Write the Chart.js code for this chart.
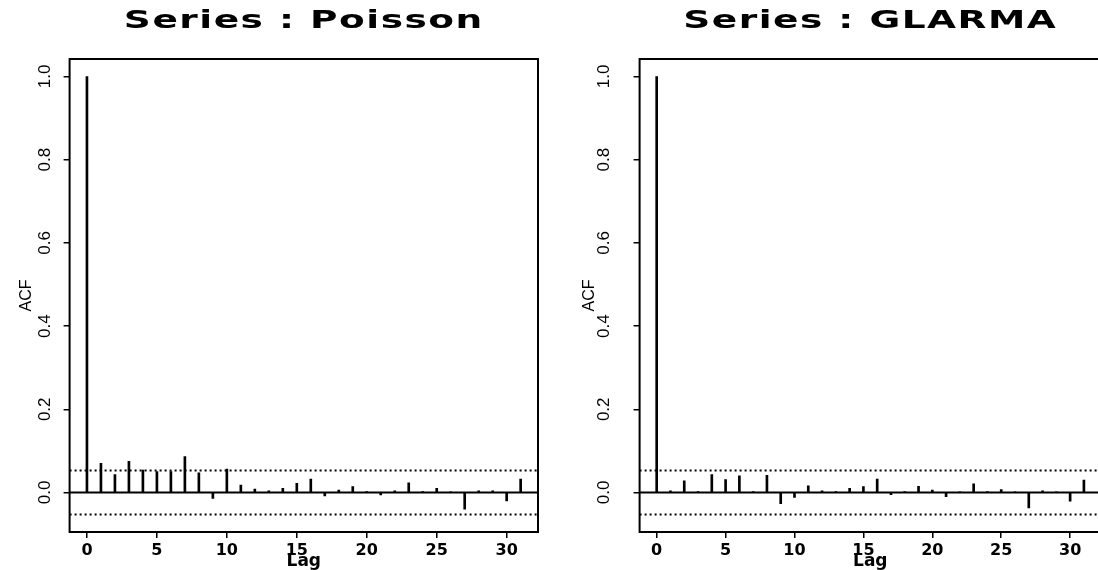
<!DOCTYPE html>
<html>
<head>
<meta charset="utf-8">
<title>ACF: Poisson vs GLARMA</title>
<script src="https://cdn.jsdelivr.net/npm/chart.js@4"></script>
<style>
  html, body { margin: 0; padding: 0; background: #fff; overflow: hidden; }
  .wrap { display: flex; width: 1120px; height: 570px; }
  canvas { display: block; }
</style>
</head>
<body>
<div class="wrap">
  <canvas id="poisson" width="560" height="570"></canvas>
  <canvas id="glarma" width="560" height="570"></canvas>
</div>
<script>
// Sample ACF of the residuals (lags 0..31).
const lags = [0, 1, 2, 3, 4, 5, 6, 7, 8, 9, 10, 11, 12, 13, 14, 15,
              16, 17, 18, 19, 20, 21, 22, 23, 24, 25, 26, 27, 28, 29, 30, 31];

const poissonAcf = [1.000, 0.070, 0.043, 0.075, 0.054, 0.050, 0.050, 0.086,
                    0.047, -0.014, 0.056, 0.018, 0.008, 0.004, 0.010, 0.022,
                    0.032, -0.008, 0.006, 0.014, 0.002, -0.006, 0.004, 0.023,
                    0.002, 0.010, 0.001, -0.040, 0.004, 0.004, -0.020, 0.032];

const glarmaAcf = [1.000, 0.004, 0.028, 0.002, 0.043, 0.031, 0.040, 0.002,
                   0.041, -0.027, -0.012, 0.016, 0.004, 0.002, 0.010, 0.014,
                   0.032, -0.005, 0.002, 0.015, 0.006, -0.010, 0.001, 0.021,
                   0.002, 0.007, 0.001, -0.037, 0.004, 0.001, -0.021, 0.030];

const ciBound = 0.053;   // +/- 2/sqrt(n) band
const xTicks = [0, 5, 10, 15, 20, 25, 30];
const yTicks = [0, 0.2, 0.4, 0.6, 0.8, 1.0];
const yTickLabels = ["0.0", "0.2", "0.4", "0.6", "0.8", "1.0"];

// R pads the data range by 4% on each side
const xMin = -1.24, xMax = 32.24;
const yMin = -0.095, yMax = 1.042;

// box, rotated y labels and the wide panel title, S-Plus style
const rDecor = {
  id: "rDecor",
  afterDraw(chart, args, opts) {
    const { ctx, chartArea: a } = chart;
    const y = chart.scales.y;
    ctx.save();
    ctx.strokeStyle = "#000";
    ctx.lineWidth = 2;
    ctx.strokeRect(a.left, a.top, a.right - a.left, a.bottom - a.top);

    ctx.fillStyle = "#000";
    ctx.font = '17px "Liberation Sans", Arial, sans-serif';
    ctx.textAlign = "center";
    ctx.textBaseline = "middle";
    yTicks.forEach((v, i) => {
      ctx.save();
      ctx.translate(a.left - opts.labelOffset, y.getPixelForValue(v));
      ctx.rotate(-Math.PI / 2);
      ctx.fillText(yTickLabels[i], 0, 0);
      ctx.restore();
    });

    ctx.font = 'bold 25px "DejaVu Sans", sans-serif';
    ctx.textBaseline = "alphabetic";
    ctx.letterSpacing = "1px";
    ctx.translate((a.left + a.right) / 2, 28);
    ctx.scale(1.5, 1);
    ctx.fillText(opts.title, 0, 0);
    ctx.restore();
  },
};

const hline = (v, dash, width) => ({
  type: "line",
  data: [{ x: xMin, y: v }, { x: xMax, y: v }],
  borderColor: "#000",
  borderWidth: width,
  borderDash: dash,
  pointRadius: 0,
});

function makeChart(id, title, acf, o) {
  new Chart(document.getElementById(id), {
    type: "bar",
    data: {
      datasets: [
        hline(ciBound, [2, 3], 2),
        hline(-ciBound, [2, 3], 2),
        hline(0, [], 2),
        {
          type: "bar",
          data: lags.map((l, i) => ({ x: l, y: acf[i] })),
          backgroundColor: "#000",
          barThickness: 2,
        },
      ],
    },
    options: {
      responsive: false,
      animation: false,
      layout: { padding: { top: 59, right: o.padRight, bottom: 0, left: 0 } },
      plugins: {
        legend: { display: false },
        tooltip: { enabled: false },
        rDecor: { title, labelOffset: o.labelOffset },
      },
      scales: {
        x: {
          type: "linear",
          min: xMin, max: xMax,
          offset: false,
          afterBuildTicks: (s) => { s.ticks = xTicks.map((v) => ({ value: v })); },
          afterFit: (s) => { s.height = 38; },
          ticks: {
            color: "#000", padding: 3, autoSkip: false, maxRotation: 0,
            font: { family: '"DejaVu Sans", sans-serif', size: 16, weight: "bold" },
          },
          grid: { drawOnChartArea: false, drawTicks: true, tickLength: 6,
                  color: "#000", lineWidth: 1.5, offset: false },
          border: { display: false },
          title: {
            display: true, text: "Lag", color: "#000",
            font: { family: '"DejaVu Sans", sans-serif', size: 17, weight: "bold", lineHeight: 1 },
            padding: { top: 0, bottom: 0 },
          },
        },
        y: {
          type: "linear",
          min: yMin, max: yMax,
          afterBuildTicks: (s) => { s.ticks = yTicks.map((v) => ({ value: v })); },
          afterFit: (s) => { s.width = o.axisWidth; },
          ticks: { display: false },
          grid: { drawOnChartArea: false, drawTicks: true, tickLength: 6,
                  color: "#000", lineWidth: 1.5 },
          border: { display: false },
          title: {
            display: true, text: "ACF", color: "#000",
            font: { family: '"Liberation Sans", Arial, sans-serif', size: 16, lineHeight: 1 },
            padding: { top: o.acfPad, bottom: 0 },
          },
        },
      },
    },
    plugins: [rDecor],
  });
}

makeChart("poisson", "Series : Poisson", poissonAcf,
          { axisWidth: 69.6, padRight: 22, labelOffset: 24, acfPad: 19 });
makeChart("glarma", "Series : GLARMA", glarmaAcf,
          { axisWidth: 79.6, padRight: 19, labelOffset: 35, acfPad: 22 });
</script>
</body>
</html>
